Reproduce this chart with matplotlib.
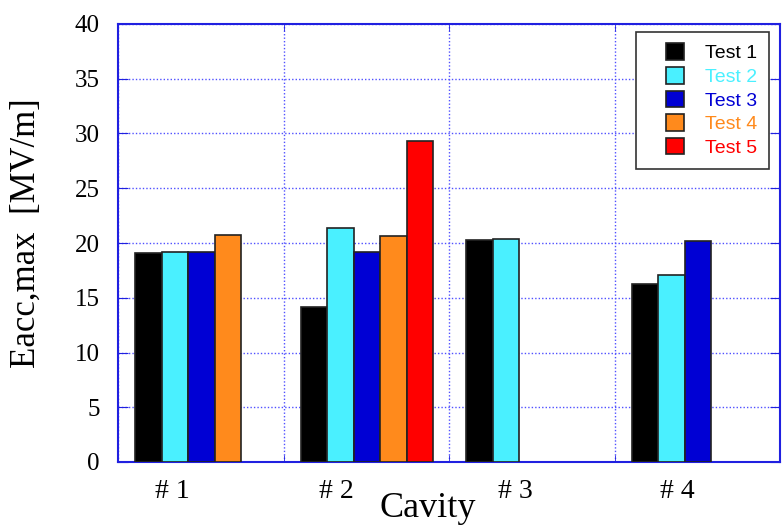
import numpy as np
import matplotlib.pyplot as plt
from matplotlib.legend_handler import HandlerPatch
from matplotlib.patches import Rectangle

# Eacc,max per cavity for each test (nan = not tested)
cavities = ['# 1', '# 2', '# 3', '# 4']
tests = ['Test 1', 'Test 2', 'Test 3', 'Test 4', 'Test 5']
test1 = [19.1, 14.2, 20.3, 16.3]
test2 = [19.2, 21.4, 20.4, 17.1]
test3 = [19.2, 19.2, np.nan, 20.2]
test4 = [20.7, 20.6, np.nan, np.nan]
test5 = [np.nan, 29.3, np.nan, np.nan]
colors = ['#000000', '#4AF0FF', '#0000D4', '#FF8A1C', '#FF0000']

series = [test1, test2, test3, test4, test5]


class RightSquare(HandlerPatch):
    # draw the legend swatch as a small square at the right end of the handle box
    def create_artists(self, legend, orig_handle, xdescent, ydescent,
                       width, height, fontsize, trans):
        sw = 0.93 * fontsize
        sh = 0.85 * fontsize
        p = Rectangle((width - sw - xdescent, -ydescent + (height - sh) / 2),
                      sw, sh, facecolor=orig_handle.get_facecolor(),
                      edgecolor='#222222', linewidth=1.2, transform=trans)
        return [p]


fig = plt.figure(figsize=(7.83, 5.28), dpi=100)
ax = fig.add_axes([118 / 783, 66 / 528, 662 / 783, 438 / 528])

serif = ['Liberation Serif', 'DejaVu Serif']
sans = ['Liberation Sans', 'DejaVu Sans']

width = 0.16
offset = 0.104
x0 = np.arange(len(cavities))
for k, (vals, col, name) in enumerate(zip(series, colors, tests)):
    ax.bar(x0 + offset + k * width, vals, width=width, align='edge',
           color=col, edgecolor='#222222', linewidth=1.2, label=name,
           zorder=3)

ax.set_xlim(0, 4)
ax.set_ylim(0, 40)
ax.set_yticks(np.arange(0, 41, 5))

# grid lines on minor x ticks, cavity names on major ticks
ax.set_xticks([0, 1, 2, 3, 4], minor=True)
ax.set_xticks([0.33, 1.32, 2.40, 3.38])
ax.set_xticklabels(cavities, family=serif, fontsize=20)
ax.tick_params(axis='x', which='major', length=0, pad=12)
ax.tick_params(axis='x', which='minor', direction='in', length=5,
               color='#2020E0', top=True)
ax.tick_params(axis='y', direction='in', length=7, color='#2020E0',
               right=True, pad=13)
for lab in ax.get_yticklabels():
    lab.set_family(serif)
    lab.set_fontsize(18)

ax.grid(True, which='minor', axis='x', color='#5050FF', linestyle=(0, (1, 1.5)),
        linewidth=1, zorder=0)
ax.grid(True, which='major', axis='y', color='#5050FF', linestyle=(0, (1, 1.5)),
        linewidth=1, zorder=0)
ax.grid(False, which='major', axis='x')
ax.set_axisbelow(True)

for sp in ax.spines.values():
    sp.set_color('#2020E0')
    sp.set_linewidth(1.5)

ax.text(0.468, -0.125, 'Cavity', transform=ax.transAxes, ha='center',
        va='baseline', family=serif, fontsize=26)
fig.text(26 / 783, 1 - 233 / 528, 'Eacc,max  [MV/m]', rotation=90,
         ha='center', va='center', family=serif, fontsize=25)

# legend swatches as plain patches so the custom handler is used
swatches = [Rectangle((0, 0), 1, 1, facecolor=c) for c in colors]
leg = ax.legend(swatches, tests, loc='upper right',
                bbox_to_anchor=(0.983, 0.982),
                prop={'family': sans, 'size': 14}, frameon=True, fancybox=False,
                edgecolor='#333333', framealpha=1, handlelength=1.9,
                handleheight=0.9, handletextpad=1.05, labelspacing=0.25,
                borderpad=0.6, borderaxespad=0,
                handler_map={Rectangle: RightSquare()})
leg.get_frame().set_linewidth(1.2)
for txt, col in zip(leg.get_texts(), colors):
    txt.set_color(col)

fig.savefig('out.png', dpi=100)
